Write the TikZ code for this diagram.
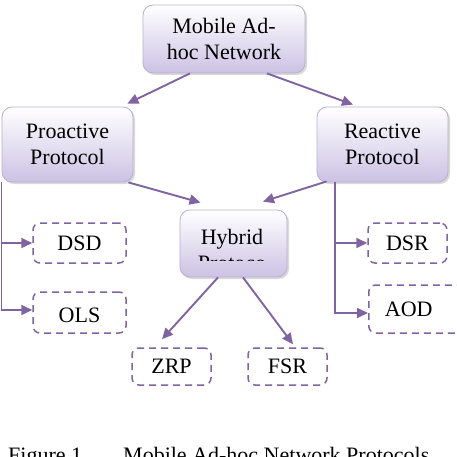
\documentclass[tikz,border=0pt]{standalone}
\usepackage{fontspec}
\setmainfont{Liberation Serif}
\usetikzlibrary{arrows.meta,shadows}
\definecolor{netpurple}{RGB}{128,100,162}
\definecolor{boxlav}{RGB}{204,194,228}
\definecolor{boxrim}{RGB}{185,175,208}
\begin{document}
\begin{tikzpicture}[x=1pt, y=-1pt,
    every node/.style={font=\fontsize{22}{26}\selectfont, inner sep=0pt},
    protobox/.style={draw=boxrim, line width=0.8pt, rounded corners=10pt, top color=white, bottom color=boxlav,
        drop shadow={shadow xshift=2pt, shadow yshift=-2pt, opacity=0.3}, align=center},
    dashbox/.style={draw=netpurple, line width=1.5pt, dash pattern=on 7pt off 5pt, rounded corners=7pt},
    link/.style={draw=netpurple, line width=1.9pt, -{Triangle[length=11pt,width=10pt]}}]
    \useasboundingbox (0,0) rectangle (457,457);
    \clip (0,0) rectangle (457,457);
    \node[protobox, minimum width=162pt, minimum height=68pt] (mobile) at (224,39) {Mobile Ad-\\hoc Network};
    \node[protobox, minimum width=131pt, minimum height=75pt] (proactive) at (67.5,144.5) {Proactive\\Protocol};
    \node[protobox, minimum width=131pt, minimum height=75pt] (reactive) at (382.5,144.5) {Reactive\\Protocol};
    \node[protobox, minimum width=107pt, minimum height=67pt] (hybrid) at (233.5,243.5) {};
    \begin{scope}
        \clip (180,210) rectangle (287,260);
        \node[align=center] (hybridtext) at (232,250) {Hybrid\\Protoco};
    \end{scope}
    \node[dashbox, minimum width=93pt, minimum height=40pt] (dsd) at (79.5,243) {DSD};
    \node[dashbox, minimum width=93pt, minimum height=41pt] (ols) at (79.5,312.5) {};
    \begin{scope}
        \clip (33,292) rectangle (126,322);
        \node (olstext) at (79.5,315.5) {OLS};
    \end{scope}
    \node[dashbox, minimum width=79pt, minimum height=40pt] (dsr) at (407.5,243) {DSR};
    \node[dashbox, minimum width=102pt, minimum height=48pt, anchor=west] (aod) at (368,309) {\hspace*{-22pt}AOD};
    \node[dashbox, minimum width=79pt, minimum height=37pt] (zrp) at (171.5,366.5) {ZRP};
    \node[dashbox, minimum width=79pt, minimum height=37pt] (fsr) at (287.5,366.5) {FSR};
    \draw[link] ([xshift=-34pt]mobile.south) -- ([xshift=-6pt, yshift=3pt]proactive.north east);
    \draw[link] ([xshift=43pt]mobile.south) -- ([xshift=-29.5pt, yshift=2pt]reactive.north);
    \draw[link] ([xshift=-5pt]proactive.south east) -- ([xshift=-33pt, yshift=7pt]hybrid.north);
    \draw[link] ([xshift=10pt, yshift=1pt]reactive.south west) -- ([xshift=29.5pt, yshift=8pt]hybrid.north);
    \draw[link] ([xshift=-15.5pt]hybrid.south) -- ([xshift=-9.5pt, yshift=8pt]zrp.north);
    \draw[link] ([xshift=9.5pt]hybrid.south) -- ([xshift=5.5pt, yshift=3pt]fsr.north);
    \coordinate (probus) at (1.5,182);
    \draw[link] (probus) |- (dsd.west);
    \draw[link] (probus) |- ([yshift=2.5pt]ols.west);
    \coordinate (reabus) at ([xshift=18pt]reactive.south west);
    \draw[link] (reabus) |- (dsr.west);
    \draw[link] (reabus) |- ([yshift=-4pt]aod.west);
    \node[anchor=base west] (figlabel) at (8,462) {Figure 1};
    \node[anchor=base west] (figtitle) at (123,462) {Mobile Ad-hoc Network Protocols};
\end{tikzpicture}
\end{document}
